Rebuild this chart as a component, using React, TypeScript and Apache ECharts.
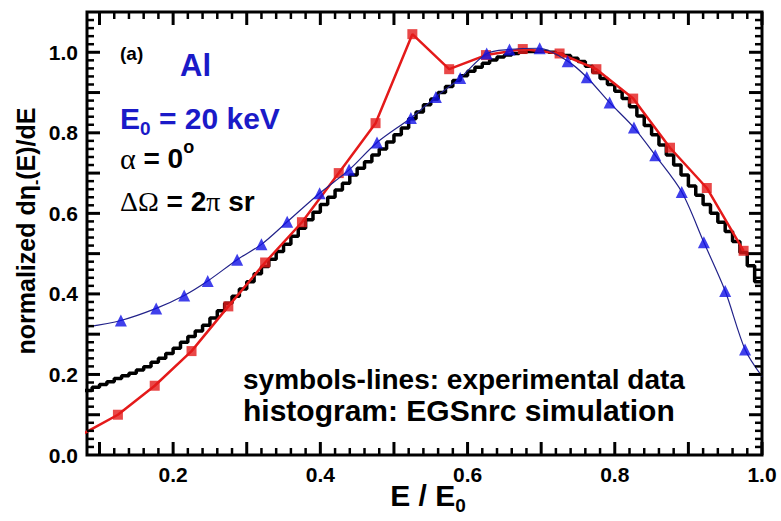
import React, { useEffect, useRef } from "react";
import * as echarts from "echarts";

// Histogram (EGSnrc simulation): bin left edges start at 0.08, bin width 0.01
const histStart = 0.08;
const histWidth = 0.01;
const histValues = [
  0.160, 0.168, 0.175, 0.182, 0.190, 0.197, 0.203, 0.211, 0.219, 0.230,
  0.240, 0.252, 0.265, 0.280, 0.294, 0.308, 0.322, 0.340, 0.358, 0.377,
  0.394, 0.412, 0.430, 0.450, 0.468, 0.486, 0.505, 0.523, 0.543, 0.563,
  0.584, 0.603, 0.622, 0.640, 0.658, 0.675, 0.695, 0.712, 0.728, 0.745,
  0.760, 0.777, 0.795, 0.812, 0.835, 0.852, 0.870, 0.884, 0.900, 0.915,
  0.930, 0.942, 0.953, 0.963, 0.973, 0.981, 0.988, 0.993, 0.997, 1.000,
  1.002, 1.003, 1.002, 1.000, 0.996, 0.992, 0.985, 0.977, 0.965, 0.950,
  0.935, 0.920, 0.903, 0.885, 0.865, 0.842, 0.818, 0.795, 0.770, 0.745,
  0.720, 0.695, 0.668, 0.645, 0.622, 0.600, 0.578, 0.555, 0.530, 0.503,
  0.470, 0.430,
];

// Experimental data, red squares (first point lies left of the frame)
const redX = [0.075, 0.125, 0.175, 0.225, 0.275, 0.325, 0.375, 0.425, 0.475, 0.525, 0.575, 0.625, 0.675, 0.725, 0.775, 0.825, 0.875, 0.925, 0.975];
const redY = [0.05, 0.10, 0.172, 0.258, 0.369, 0.478, 0.578, 0.700, 0.824, 1.045, 0.958, 0.993, 1.008, 0.997, 0.958, 0.885, 0.763, 0.663, 0.507];

// Experimental data, blue triangles (first and last points sit on the frame)
const blueX = [0.083, 0.129, 0.177, 0.215, 0.247, 0.287, 0.320, 0.355, 0.399, 0.439, 0.477, 0.523, 0.557, 0.590, 0.626, 0.657, 0.698, 0.736, 0.762, 0.793, 0.826, 0.855, 0.891, 0.921, 0.950, 0.977, 1.0];
const blueY = [0.318, 0.334, 0.364, 0.396, 0.432, 0.485, 0.523, 0.579, 0.650, 0.708, 0.776, 0.837, 0.889, 0.936, 0.997, 1.007, 1.010, 0.978, 0.938, 0.875, 0.813, 0.744, 0.653, 0.528, 0.407, 0.262, 0.195];

const xTickLabels = [0.2, 0.4, 0.6, 0.8, 1.0];
const yTickLabels = [0.0, 0.2, 0.4, 0.6, 0.8, 1.0];

const FONT = "Liberation Sans, Arial, Helvetica, sans-serif";
const BLUE_TEXT = "#1a1ac8";
const X_MIN = 0.083;
const X_MAX = 1.0;
const Y_MIN = 0;
const Y_MAX = 1.1;

export default function App() {
  const ref = useRef<HTMLDivElement>(null);
  useEffect(() => {
    if (!ref.current) return;
    const chart = echarts.init(ref.current, undefined, { renderer: "svg" });

    const histData: number[][] = histValues.map((v, i) => [
      +(histStart + i * histWidth).toFixed(3),
      v,
    ]);
    histData.push([X_MAX, histValues[histValues.length - 1]]);

    const redPairs = redX.map((x, i) => [x, redY[i]]);
    const bluePairs = blueX.map((x, i) => [x, blueY[i]]);

    const textGraphics: any[] = [
      {
        type: "text",
        style: { text: "(a)", x: 120, y: 53, verticalAlign: "middle", font: `bold 19px ${FONT}`, fill: "#000" },
      },
      {
        type: "text",
        style: { text: "Al", x: 180, y: 65, verticalAlign: "middle", font: `bold 31px ${FONT}`, fill: BLUE_TEXT },
      },
      {
        type: "text",
        style: {
          x: 120,
          y: 118,
          verticalAlign: "middle",
          text: "{b|E}{s|0}{b| = 20 keV}",
          rich: {
            b: { fontFamily: FONT, fontWeight: "bold", fontSize: 30, fill: BLUE_TEXT, lineHeight: 40, verticalAlign: "middle" },
            s: { fontFamily: FONT, fontWeight: "bold", fontSize: 19, fill: BLUE_TEXT, lineHeight: 19, verticalAlign: "bottom" },
          },
        },
      },
      {
        type: "text",
        style: {
          x: 120,
          y: 158,
          verticalAlign: "middle",
          text: "{g|α}{b| = 0}{p|o}",
          rich: {
            g: { fontFamily: "Liberation Serif, serif", fontSize: 30, fill: "#000", lineHeight: 40, verticalAlign: "middle" },
            b: { fontFamily: FONT, fontWeight: "bold", fontSize: 28, fill: "#000", lineHeight: 40, verticalAlign: "middle" },
            p: { fontFamily: FONT, fontWeight: "bold", fontSize: 18, fill: "#000", lineHeight: 18, verticalAlign: "top" },
          },
        },
      },
      {
        type: "text",
        style: {
          x: 120,
          y: 201,
          verticalAlign: "middle",
          text: "{g|ΔΩ}{b| = 2}{g|π}{b| sr}",
          rich: {
            g: { fontFamily: "Liberation Serif, serif", fontSize: 28, fill: "#000", lineHeight: 40, verticalAlign: "middle" },
            b: { fontFamily: FONT, fontWeight: "bold", fontSize: 28, fill: "#000", lineHeight: 40, verticalAlign: "middle" },
          },
        },
      },
      {
        type: "text",
        style: { text: "symbols-lines: experimental data", x: 243, y: 379, verticalAlign: "middle", font: `bold 28px ${FONT}`, fill: "#000" },
      },
      {
        type: "text",
        style: { text: "histogram: EGSnrc simulation", x: 243, y: 410, verticalAlign: "middle", font: `bold 30px ${FONT}`, fill: "#000" },
      },
      {
        type: "text",
        x: 26,
        y: 231,
        rotation: Math.PI / 2,
        style: {
          x: 0,
          y: 0,
          align: "center",
          verticalAlign: "middle",
          text: "{b|normalized dη}{s|-}{b|(E)/dE}",
          rich: {
            b: { fontFamily: FONT, fontWeight: "bold", fontSize: 25, fill: "#000", lineHeight: 34, verticalAlign: "middle" },
            s: { fontFamily: FONT, fontWeight: "bold", fontSize: 16, fill: "#000", lineHeight: 16, verticalAlign: "bottom" },
          },
        },
      },
      {
        type: "text",
        style: {
          x: 428,
          y: 495,
          align: "center",
          verticalAlign: "middle",
          text: "{b|E / E}{s|0}",
          rich: {
            b: { fontFamily: FONT, fontWeight: "bold", fontSize: 30, fill: "#000", lineHeight: 40, verticalAlign: "middle" },
            s: { fontFamily: FONT, fontWeight: "bold", fontSize: 19, fill: "#000", lineHeight: 19, verticalAlign: "bottom" },
          },
        },
      },
    ];

    chart.setOption({
      animation: false,
      backgroundColor: "#fff",
      grid: { left: 87, right: 19, top: 12, bottom: 66, show: true, borderColor: "#000", borderWidth: 3 },
      xAxis: {
        type: "value",
        min: X_MIN,
        max: X_MAX,
        splitLine: { show: false },
        axisLine: { show: false },
        axisTick: { show: false },
        axisLabel: {
          show: true,
          customValues: xTickLabels,
          formatter: (v: number) => v.toFixed(1),
          fontFamily: FONT,
          fontWeight: "bold",
          fontSize: 21,
          color: "#000",
          margin: 9,
        },
      },
      yAxis: {
        type: "value",
        min: Y_MIN,
        max: Y_MAX,
        splitLine: { show: false },
        axisLine: { show: false },
        axisTick: { show: false },
        axisLabel: {
          show: true,
          customValues: yTickLabels,
          formatter: (v: number) => v.toFixed(1),
          fontFamily: FONT,
          fontWeight: "bold",
          fontSize: 21,
          color: "#000",
          margin: 9,
        },
      },
      series: [
        {
          type: "line",
          name: "EGSnrc",
          data: histData,
          step: "end",
          symbol: "none",
          lineStyle: { color: "#000", width: 3.5 },
          z: 2,
        },
        {
          type: "line",
          name: "exp-red-line",
          data: redPairs,
          symbol: "none",
          lineStyle: { color: "#e41a1a", width: 2.5 },
          z: 3,
        },
        {
          type: "scatter",
          name: "exp-red",
          data: redPairs.slice(1),
          symbol: "rect",
          symbolSize: 10,
          itemStyle: { color: "#e41a1a" },
          z: 3,
        },
        {
          type: "line",
          name: "exp-blue-line",
          data: bluePairs,
          smooth: 0.3,
          symbol: "none",
          lineStyle: { color: "#22228a", width: 1.2 },
          z: 4,
        },
        {
          type: "scatter",
          name: "exp-blue",
          data: bluePairs.slice(1, bluePairs.length - 1),
          symbol: "triangle",
          symbolSize: 12,
          itemStyle: { color: "#1010e6" },
          z: 4,
        },
      ],
      graphic: textGraphics,
    });

    // Tick marks on all four sides, placed through the chart's own coordinate conversion
    const tickGraphics: any[] = [];
    const toPx = (x: number, y: number) => chart.convertToPixel({ gridIndex: 0 }, [x, y]) as number[];
    const addTick = (p: number[], dx: number, dy: number, major: boolean) => {
      if (!p || !isFinite(p[0]) || !isFinite(p[1])) return;
      tickGraphics.push({
        type: "line",
        z: 100,
        silent: true,
        shape: { x1: p[0], y1: p[1], x2: p[0] + dx, y2: p[1] + dy },
        style: { stroke: "#000", lineWidth: major ? 3 : 2.5 },
      });
    };
    for (let i = 5; i <= 50; i++) {
      const v = i / 50;
      const major = i % 5 === 0;
      const len = major ? 13 : 7;
      addTick(toPx(v, Y_MIN), 0, -len, major);
      addTick(toPx(v, Y_MAX), 0, len, major);
    }
    for (let i = 1; i <= 54; i++) {
      const v = i / 50;
      const major = i % 5 === 0;
      const len = major ? 13 : 7;
      addTick(toPx(X_MIN, v), len, 0, major);
      addTick(toPx(X_MAX, v), -len, 0, major);
    }
    chart.setOption({ graphic: textGraphics.concat(tickGraphics) });

    return () => chart.dispose();
  }, []);
  return <div ref={ref} style={{ width: 781, height: 521, position: "absolute", left: 0, top: 0 }} />;
}
